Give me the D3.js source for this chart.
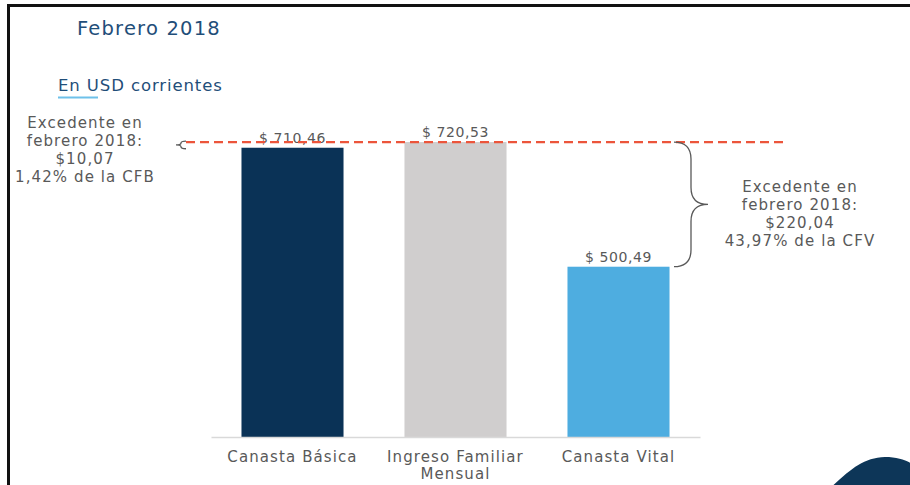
<!DOCTYPE html>
<html>
<head>
<meta charset="utf-8">
<script src="https://cdn.jsdelivr.net/npm/d3@7"></script>
<style>
  html, body { margin: 0; padding: 0; background: #fff; }
  svg { display: block; }
  text { font-family: "DejaVu Sans", "Open Sans", sans-serif; }
</style>
</head>
<body>
<svg id="chart" width="910" height="485"></svg>
<script>
// Monthly basket costs vs. family income, February 2018 (USD)
const categories = ["Canasta Básica", "Ingreso Familiar Mensual", "Canasta Vital"];
const categoryLines = [["Canasta Básica"], ["Ingreso Familiar", "Mensual"], ["Canasta Vital"]];
const values = [710.46, 720.53, 500.49];
const valueLabels = ["$ 710,46", "$ 720,53", "$ 500,49"];
const barColors = ["#0a3256", "#d0cece", "#4eade0"];
const leftNote = ["Excedente en", "febrero 2018:", "$10,07", "1,42% de la CFB"];
const rightNote = ["Excedente en", "febrero 2018:", "$220,04", "43,97% de la CFV"];

const svg = d3.select("#chart");

// Frame
svg.append("path")
  .attr("d", "M8.5,490 V5.5 H915")
  .attr("fill", "none").attr("stroke", "#111").attr("stroke-width", 3);

// Headings
svg.append("text").attr("x", 77).attr("y", 35)
  .attr("font-size", 19.5).attr("letter-spacing", 1.2).attr("fill", "#1f4e79").text("Febrero 2018");
svg.append("text").attr("x", 58).attr("y", 91)
  .attr("font-size", 16.5).attr("letter-spacing", 0.9).attr("fill", "#1f4e79").text("En USD corrientes");
svg.append("line").attr("x1", 58).attr("x2", 98).attr("y1", 97.5).attr("y2", 97.5)
  .attr("stroke", "#6ec1ea").attr("stroke-width", 2);

// Scales
const x = d3.scaleBand().domain(categories).range([211, 700])
  .paddingInner(0.374).paddingOuter(0.187);
const y = d3.scaleLinear().domain([200, 800]).range([437, 97]);

// Bars
svg.append("g").selectAll("rect").data(categories).join("rect")
  .attr("x", d => x(d))
  .attr("width", x.bandwidth())
  .attr("y", (d, i) => y(values[i]))
  .attr("height", (d, i) => y(200) - y(values[i]))
  .attr("fill", (d, i) => barColors[i]);

// Baseline axis
const axis = svg.append("g").attr("transform", `translate(0,${y(200)})`)
  .call(d3.axisBottom(x).tickSize(0).tickFormat(""));
axis.select(".domain").attr("stroke", "#d9d9d9").attr("stroke-width", 1.5);

// Category labels
categories.forEach((c, i) => {
  const t = svg.append("text")
    .attr("x", x(c) + x.bandwidth() / 2).attr("y", y(200) + 25)
    .attr("text-anchor", "middle").attr("font-size", 15).attr("letter-spacing", 1.1)
    .attr("fill", "#595959");
  categoryLines[i].forEach((ln, j) => {
    t.append("tspan").attr("x", x(c) + x.bandwidth() / 2).attr("dy", j === 0 ? 0 : 17).text(ln);
  });
});

// Value labels
categories.forEach((c, i) => {
  svg.append("text")
    .attr("x", x(c) + x.bandwidth() / 2).attr("y", y(values[i]) - 5)
    .attr("text-anchor", "middle").attr("font-size", 14).attr("letter-spacing", 0.6)
    .attr("fill", "#595959")
    .text(valueLabels[i]);
});

// Income reference line
const incomeY = y(values[1]);
svg.append("line")
  .attr("x1", 186).attr("x2", 785).attr("y1", incomeY).attr("y2", incomeY)
  .attr("stroke", "#ec553b").attr("stroke-width", 2.2).attr("stroke-dasharray", "9,5");

// Curly brace helper (vertical; dir -1 puts the tip left, +1 right)
function brace(xEdge, y0, y1, depth, dir) {
  const ym = (y0 + y1) / 2;
  const xm = xEdge + dir * depth * 0.5;
  const xt = xEdge + dir * depth;
  const r = Math.min(depth * 0.5, (y1 - y0) / 4);
  return `M${xEdge},${y0} Q${xm},${y0} ${xm},${y0 + r} L${xm},${ym - r} Q${xm},${ym} ${xt},${ym}` +
         ` Q${xm},${ym} ${xm},${ym + r} L${xm},${y1 - r} Q${xm},${y1} ${xEdge},${y1}`;
}

svg.append("path")
  .attr("d", brace(674, y(values[1]), y(values[2]), 34, 1))
  .attr("fill", "none").attr("stroke", "#595959").attr("stroke-width", 1.3);
svg.append("path")
  .attr("d", brace(186, y(values[1]) - 1, y(values[0]) + 1, 10, -1))
  .attr("fill", "none").attr("stroke", "#595959").attr("stroke-width", 1.3);

// Surplus notes
function note(lines, cx, cy) {
  const t = svg.append("text").attr("text-anchor", "middle")
    .attr("font-size", 15).attr("letter-spacing", 1.1).attr("fill", "#595959");
  lines.forEach((ln, j) => {
    t.append("tspan").attr("x", cx).attr("y", cy + j * 18).text(ln);
  });
}
note(leftNote, 85, 128);
note(rightNote, 800, 192);

// Corner ornament
svg.append("path")
  .attr("d", "M828,490 C850,470 862,458 885,457 C900,457 910,462 915,466 L915,490 Z")
  .attr("fill", "#0d3658");
</script>
</body>
</html>
